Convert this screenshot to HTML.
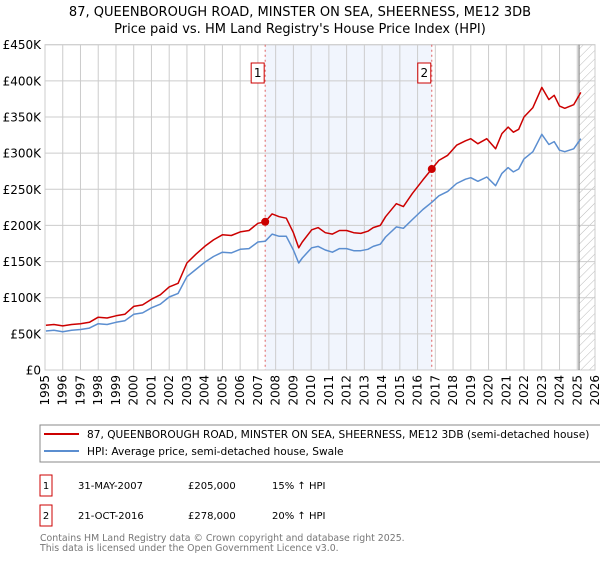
<!DOCTYPE html>
<html><head><meta charset="utf-8"><style>
body{margin:0;background:#fff;font-family:"Liberation Sans","DejaVu Sans",sans-serif;}
svg text{font-family:"DejaVu Sans","Liberation Sans",sans-serif;}
</style></head><body>
<svg id="c" width="600" height="560" xmlns="http://www.w3.org/2000/svg">
<defs><pattern id="hatch" width="6" height="6" patternUnits="userSpaceOnUse" patternTransform="rotate(45)"><line x1="0" y1="0" x2="0" y2="6" stroke="#bbb" stroke-width="1"/></pattern></defs>
<text x="300" y="16" text-anchor="middle" font-size="13">87, QUEENBOROUGH ROAD, MINSTER ON SEA, SHEERNESS, ME12 3DB</text>
<text x="300" y="33" text-anchor="middle" font-size="13">Price paid vs. HM Land Registry's House Price Index (HPI)</text>
<g id="plot"></g>
<rect x="40" y="425" width="565" height="37" fill="#fff" stroke="#888"/>
<line x1="44" y1="434" x2="79" y2="434" stroke="#cc0000" stroke-width="2"/>
<text x="87" y="438" font-size="10.6">87, QUEENBOROUGH ROAD, MINSTER ON SEA, SHEERNESS, ME12 3DB (semi-detached house)</text>
<line x1="44" y1="451" x2="79" y2="451" stroke="#5b8ed0" stroke-width="2"/>
<text x="87" y="455" font-size="10.6">HPI: Average price, semi-detached house, Swale</text>
<g font-size="10">
<rect x="40" y="475" width="12" height="21" fill="#fff" stroke="#cc0000"/>
<text x="46" y="489" text-anchor="middle">1</text>
<text x="78" y="489">31-MAY-2007</text>
<text x="188" y="489">£205,000</text>
<text x="272" y="489">15% ↑ HPI</text>
<rect x="40" y="505" width="12" height="21" fill="#fff" stroke="#cc0000"/>
<text x="46" y="519" text-anchor="middle">2</text>
<text x="78" y="519">21-OCT-2016</text>
<text x="188" y="519">£278,000</text>
<text x="272" y="519">20% ↑ HPI</text>
</g>
<text x="40" y="541" font-size="9.4" fill="#777">Contains HM Land Registry data © Crown copyright and database right 2025.</text>
<text x="40" y="551" font-size="9.4" fill="#777">This data is licensed under the Open Government Licence v3.0.</text>
</svg>
<script>
const yTicks=[0,50,100,150,200,250,300,350,400,450];
const yTickLabels=["£0","£50K","£100K","£150K","£200K","£250K","£300K","£350K","£400K","£450K"];
const years=[1995,1996,1997,1998,1999,2000,2001,2002,2003,2004,2005,2006,2007,2008,2009,2010,2011,2012,2013,2014,2015,2016,2017,2018,2019,2020,2021,2022,2023,2024,2025,2026];
const redT=[1995.05,1995.5,1996,1996.5,1997,1997.5,1998,1998.5,1999,1999.5,2000,2000.5,2001,2001.5,2002,2002.5,2003,2003.5,2004,2004.5,2005,2005.5,2006,2006.5,2007,2007.41,2007.8,2008.2,2008.6,2009,2009.3,2009.5,2010.03,2010.4,2010.8,2011.2,2011.6,2012,2012.4,2012.8,2013.2,2013.5,2013.9,2014.2,2014.8,2015.2,2015.7,2016.3,2016.8,2017.2,2017.7,2018.2,2018.7,2019,2019.4,2019.9,2020.4,2020.75,2021.1,2021.4,2021.7,2022,2022.5,2023,2023.4,2023.7,2024,2024.3,2024.8,2025.2];
const redV=[62,63,61,63,64,66,73,72,75,77,88,90,98,104,115,120,148,160,171,180,187,186,191,193,203,205,216,212,210,190,169,177,194,197,190,188,193,193,190,189,192,197,200,212,230,226,244,263,278,290,297,311,317,320,313,320,306,327,336,329,333,350,363,391,374,380,365,362,367,384];
const blueT=[1995.05,1995.5,1996,1996.5,1997,1997.5,1998,1998.5,1999,1999.5,2000,2000.5,2001,2001.5,2002,2002.5,2003,2003.5,2004,2004.5,2005,2005.5,2006,2006.5,2007,2007.41,2007.8,2008.2,2008.6,2009,2009.3,2009.5,2010.03,2010.4,2010.8,2011.2,2011.6,2012,2012.4,2012.8,2013.2,2013.5,2013.9,2014.2,2014.8,2015.2,2015.7,2016.3,2016.8,2017.2,2017.7,2018.2,2018.7,2019,2019.4,2019.9,2020.4,2020.75,2021.1,2021.4,2021.7,2022,2022.5,2023,2023.4,2023.7,2024,2024.3,2024.8,2025.2];
const blueV=[54,55,53,55,56,58,64,63,66,68,77,79,86,91,101,106,129,139,149,157,163,162,167,168,177,178,188,185,185,166,148,155,169,171,166,163,168,168,165,165,167,171,174,184,198,196,208,222,232,241,247,258,264,266,261,267,255,272,280,274,278,292,302,326,312,316,304,302,306,320];
const sales=[{n:"1",t:2007.41,v:205},{n:"2",t:2016.8,v:278}];
const X0=45,X1=595,Y0=370,Y1=44.7;
const x=t=>X0+(t-1995)/(2026-1995)*(X1-X0);
const y=v=>Y0-v/450*(Y0-Y1);
const NS="http://www.w3.org/2000/svg",g=document.getElementById('plot');
function mk(tag,a){const e=document.createElementNS(NS,tag);for(const k in a)e.setAttribute(k,a[k]);g.appendChild(e);return e;}
let e;
e=mk('rect',{x:x(sales[0].t),y:Y1,width:x(sales[1].t)-x(sales[0].t),height:Y0-Y1,fill:'#eef3fc',opacity:0.8});


e=mk('rect',{x:x(2025.1),y:Y1,width:X1-x(2025.1),height:Y0-Y1,fill:'url(#hatch)'});


yTicks.forEach((v,i)=>{
 e=mk('line',{x1:X0,x2:X1,y1:y(v),y2:y(v),stroke:'#ccc','stroke-width':1});
 
 
 e=mk('text',{x:X0-4,y:y(v)+4.5,'text-anchor':'end','font-size':12});e.textContent=yTickLabels[i];
 
 
});
years.forEach(yr=>{
 e=mk('line',{x1:x(yr),x2:x(yr),y1:Y1,y2:Y0,stroke:'#ccc','stroke-width':1});
 
 
 e=mk('text',{x:0,y:0,'text-anchor':'end','font-size':12,transform:`translate(${x(yr)+4},${Y0+5}) rotate(-90)`});e.textContent=yr;
 
 
});
e=mk('rect',{x:X0,y:Y1,width:X1-X0,height:Y0-Y1,fill:'none',stroke:'#ccc'});


e=mk('line',{x1:x(2025.1),x2:x(2025.1),y1:Y1,y2:Y0,stroke:'#888','stroke-width':1.2});


sales.forEach(s=>{
 e=mk('line',{x1:x(s.t),x2:x(s.t),y1:Y1,y2:Y0,stroke:'#e06060','stroke-width':1,'stroke-dasharray':'2,3'});
 
 
 e=mk('rect',{x:x(s.t)-14,y:63,width:13,height:20,fill:'#fff',stroke:'#cc0000'});
 
 
 e=mk('text',{x:x(s.t)-7.5,y:77,'text-anchor':'middle','font-size':12});e.textContent=s.n;
 
 
});
function line(T,V,c,name){const d=T.map((t,i)=>(i?'L':'M')+x(t).toFixed(1)+','+y(V[i]).toFixed(1)).join('');
 const p=mk('path',{d:d,fill:'none',stroke:c,'stroke-width':1.5,'stroke-linejoin':'round'});
 
 }
line(blueT,blueV,'#5b8ed0','hpi-line');
line(redT,redV,'#cc0000','property-price-line');
sales.forEach(s=>{
 e=mk('circle',{cx:x(s.t),cy:y(s.v),r:4,fill:'#cc0000'});
 
 
});
</script>
</body></html>
